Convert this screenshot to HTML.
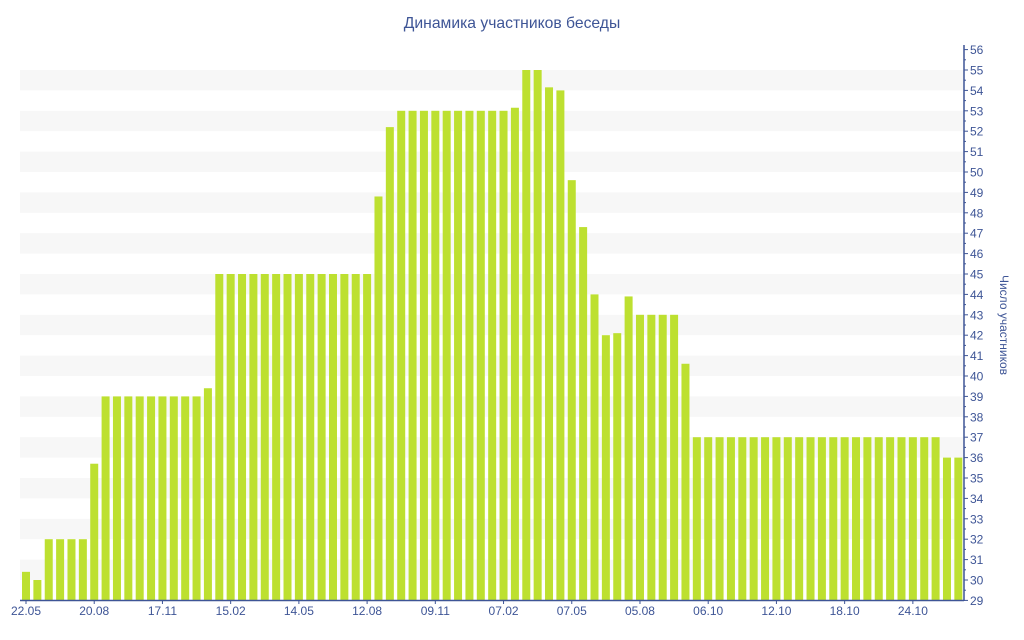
<!DOCTYPE html>
<html><head><meta charset="utf-8"><style>
body{margin:0;background:#fff;}
svg{display:block;font-family:"Liberation Sans","DejaVu Sans",sans-serif;}
</style></head><body>
<svg id="s" width="1024" height="640" xmlns="http://www.w3.org/2000/svg">
<text x="512" y="28" text-anchor="middle" font-size="15.7" fill="#3e5596">Динамика участников беседы</text>
<text transform="translate(1000,325) rotate(90)" text-anchor="middle" font-size="12" fill="#3e5596">Число участников</text>
</svg>
<script>
var s=document.getElementById('s'),ns='http://www.w3.org/2000/svg';
function el(t,a,txt){var e=document.createElementNS(ns,t);for(var k in a)e.setAttribute(k,a[k]);if(txt)e.textContent=txt;s.appendChild(e);return e;}
function Y(v){return 580-(v-30)*20.4;}
for(var v=30;v<=54;v+=2){el('rect',{x:20,y:Y(v+1),width:944,height:20.4,fill:'#f7f7f7'});}
var d=[30.4,30,32,32,32,32,35.7];
for(var i=0;i<9;i++)d.push(39);d.push(39.4);
for(i=0;i<14;i++)d.push(45);
d.push(48.8,52.2);for(i=0;i<10;i++)d.push(53);
d.push(53.15,55,55,54.15,54,49.6,47.3,44,42,42.1,43.9,43,43,43,43,40.6);
for(i=0;i<22;i++)d.push(37);d.push(36,36);
for(i=0;i<d.length;i++){var cx=26+i*11.37;el('rect',{x:cx-4,y:Y(d[i]),width:8,height:600-Y(d[i]),fill:'#bde030'});}
el('line',{x1:20,y1:600.5,x2:964,y2:600.5,stroke:'#3e5596','stroke-width':1.5});
el('line',{x1:964,y1:45,x2:964,y2:601,stroke:'#3e5596','stroke-width':1.5});
for(v=29;v<=56;v++){var y=Y(v);el('line',{x1:964,y1:y,x2:968,y2:y,stroke:'#3e5596'});
if(v>29)el('line',{x1:964,y1:y+10.2,x2:966,y2:y+10.2,stroke:'#3e5596'});
el('text',{x:970,y:y+4.5,'font-size':12,fill:'#3e5596'},String(v));}
var L=['22.05','20.08','17.11','15.02','14.05','12.08','09.11','07.02','07.05','05.08','06.10','12.10','18.10','24.10'];
for(i=0;i<L.length;i++){var x=26+i*6*11.37;el('line',{x1:x,y1:600,x2:x,y2:604,stroke:'#3e5596'});
el('text',{x:x,y:615,'font-size':12,fill:'#3e5596','text-anchor':'middle'},L[i]);}
</script>
</body></html>
